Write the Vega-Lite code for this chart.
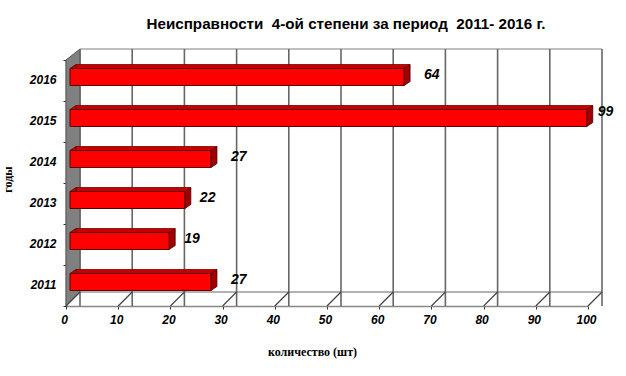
{
"$schema":"https://vega.github.io/schema/vega-lite/v6.json",
"autosize":"none","width":522,"height":246,
"padding":{"left":66,"top":60,"right":38,"bottom":70},
"background":"white",
"title":{"text":"Неисправности \u00a04-ой степени за период \u00a02011- 2016 г.","font":"Liberation Sans","fontSize":15.2,"fontWeight":"bold","color":"black","anchor":"middle","dx":19,"offset":15},
"config":{"view":{"stroke":null}},
"datasets":{
"faults":[{"year":"2016","count":64},{"year":"2015","count":99},{"year":"2014","count":27},{"year":"2013","count":22},{"year":"2012","count":19},{"year":"2011","count":27}],
"ticks":[{"tick":0},{"tick":10},{"tick":20},{"tick":30},{"tick":40},{"tick":50},{"tick":60},{"tick":70},{"tick":80},{"tick":90},{"tick":100}]
},
"data":{"name":"faults"},
"encoding":{
"y":{"field":"year","type":"nominal","sort":["2016","2015","2014","2013","2012","2011"],"scale":{"type":"band","paddingInner":0,"paddingOuter":0},
"axis":{"title":"годы","titleFont":"Liberation Serif","titleFontSize":12,"titleFontWeight":"bold","titleColor":"black","titleX":-52,"titleY":119,"labelFont":"Liberation Sans","labelFontSize":12,"labelFontStyle":"italic","labelFontWeight":"bold","labelColor":"black","labelPadding":7,"labelAngle":0,"tickBand":"extent","tickSize":3,"tickColor":"#333333","domainColor":"#444444","domainWidth":1.5,"grid":false,"labelOffset":-1}},
"x":{"field":"count","type":"quantitative","scale":{"domain":[0,100],"nice":false,"zero":true},
"axis":{"title":"количество (шт)","titleFont":"Liberation Serif","titleFontSize":12,"titleFontWeight":"bold","titleColor":"black","titleX":246,"titleY":40,"values":[0,10,20,30,40,50,60,70,80,90,100],"labelFont":"Liberation Sans","labelFontSize":12,"labelFontStyle":"italic","labelFontWeight":"bold","labelColor":"black","labelPadding":5,"labelOffset":-2,"tickSize":3,"tickColor":"#333333","domainColor":"#888888","domainWidth":1.5,"grid":false,"labelFlush":false}}
},
"layer":[
{"data":{"values":[{"year":"2016","count":0}]},
 "mark":{"type":"point","filled":true,"size":4,"opacity":1,"fill":"#808080","stroke":"#555555","strokeWidth":1,"shape":"M0,-20.5L14,-31.5L14,211.5L0,225.5Z"}},
{"data":{"values":[{"year":"2016","count":0}]},
 "mark":{"type":"rule","color":"#aaaaaa","strokeWidth":1.5,"xOffset":14,"x2Offset":14,"yOffset":-31.5},
 "encoding":{"x":{"datum":0},"x2":{"datum":100}}},
{"data":{"values":[{"year":"2011","count":0}]},
 "mark":{"type":"rule","color":"#999999","strokeWidth":1.5,"xOffset":14,"x2Offset":14,"yOffset":6.5},
 "encoding":{"x":{"datum":0},"x2":{"datum":100}}},
{"data":{"name":"ticks"},
 "mark":{"type":"rule","color":"#666666","strokeWidth":1.6,"xOffset":14,"yOffset":-11,"y2Offset":-14},
 "encoding":{"y":null,"x":{"field":"tick","type":"quantitative"}}},
{"data":{"name":"ticks"},
 "mark":{"type":"point","filled":false,"size":4,"opacity":1,"stroke":"#444444","strokeWidth":1.2,"shape":"M0,20.5L14,6.5"},
 "encoding":{"x":{"field":"tick","type":"quantitative"},"y":{"datum":"2011"}}},
{"mark":{"type":"bar","height":4,"fill":"#c40000","xOffset":10,"x2Offset":4,"yOffset":-14}},
{"mark":{"type":"point","filled":true,"size":4,"opacity":1,"fill":"#c40000","stroke":"#5a0000","strokeWidth":0.8,"shape":"M4,-12L10,-16L10,-12Z"},
 "encoding":{"x":{"datum":0}}},
{"mark":{"type":"rule","color":"#7a0000","strokeWidth":0.8,"xOffset":10,"x2Offset":10,"yOffset":-16},
 "encoding":{"x":{"datum":0},"x2":{"field":"count"}}},
{"mark":{"type":"point","filled":true,"size":4,"opacity":1,"fill":"#c40000","shape":"M4,-12L10,-16L4,-16Z"}},
{"mark":{"type":"point","filled":true,"size":4,"opacity":1,"fill":"#a00000","stroke":"#4a0000","strokeWidth":0.8,"shape":"M4,-12L10,-16L10,1L4,5Z"}},
{"mark":{"type":"bar","height":17,"fill":"#ff0000","stroke":"#5a0000","strokeWidth":1,"xOffset":4,"x2Offset":4,"yOffset":-3.5}},
{"transform":[{"filter":"datum.count != 99 && datum.count != 19 && datum.count != 22"}],
 "mark":{"type":"text","font":"Liberation Sans","fontSize":14,"fontStyle":"italic","fontWeight":"bold","color":"black","align":"left","baseline":"middle","dx":24,"dy":-6},
 "encoding":{"text":{"field":"count","type":"quantitative"}}},
{"transform":[{"filter":"datum.count == 19 || datum.count == 22"}],
 "mark":{"type":"text","font":"Liberation Sans","fontSize":14,"fontStyle":"italic","fontWeight":"bold","color":"black","align":"left","baseline":"middle","dx":19,"dy":-6},
 "encoding":{"text":{"field":"count","type":"quantitative"}}},
{"transform":[{"filter":"datum.count == 99"}],
 "mark":{"type":"text","font":"Liberation Sans","fontSize":14,"fontStyle":"italic","fontWeight":"bold","color":"black","align":"left","baseline":"middle","dx":15,"dy":-10},
 "encoding":{"text":{"field":"count","type":"quantitative"}}}
]
}
